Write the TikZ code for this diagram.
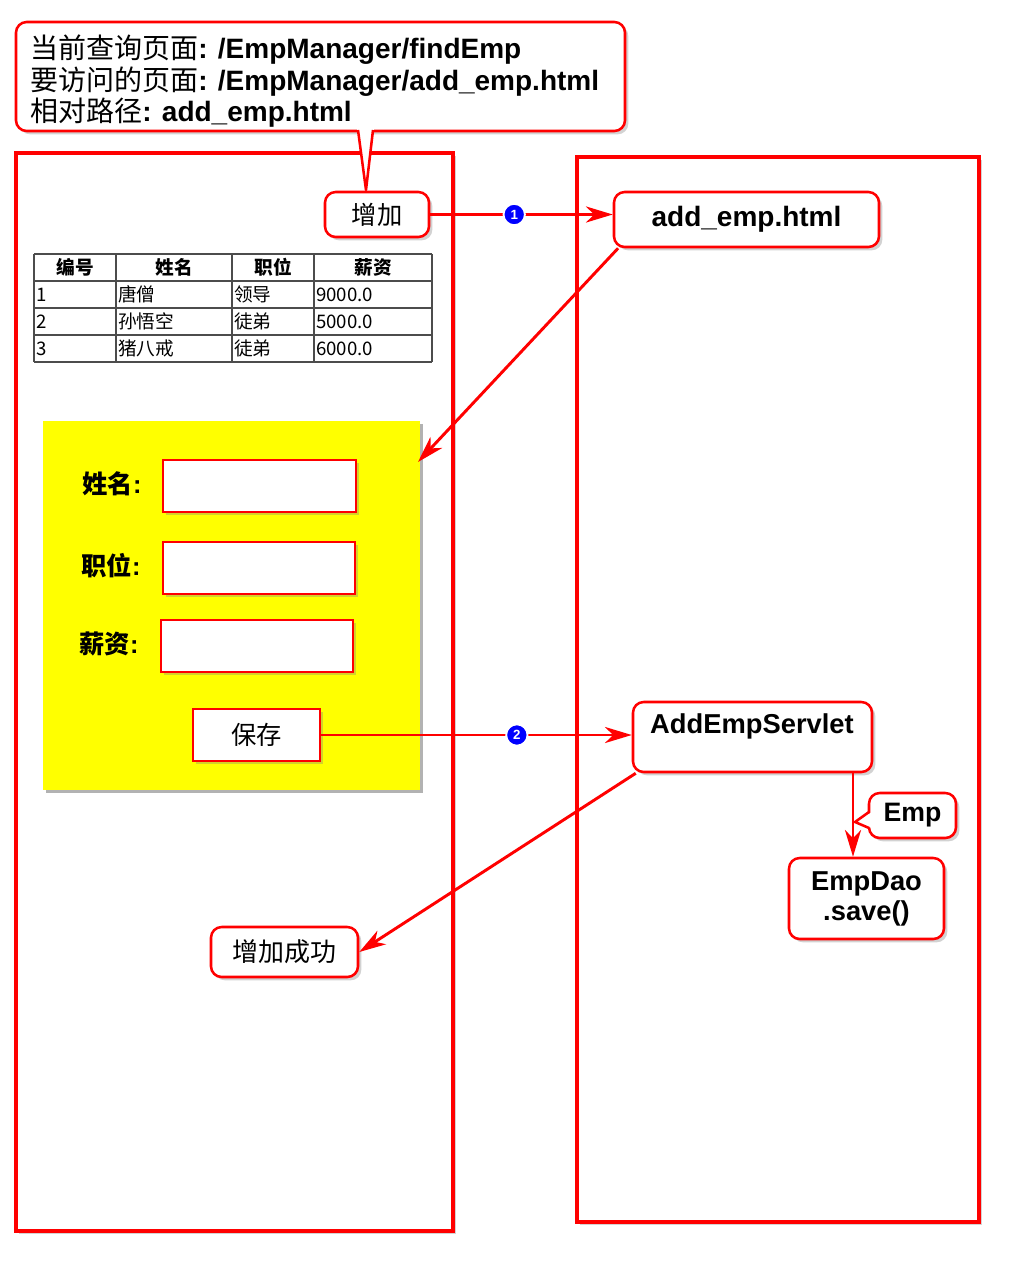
\documentclass[tikz,border=0pt]{standalone}
\usepackage{fontspec}
\setmainfont{Liberation Sans}
\newfontfamily\cjk{Noto Sans CJK SC}
\usetikzlibrary{arrows.meta,positioning,fit,shadows}

\newcommand{\fsz}[1]{\fontsize{#1}{#1}\selectfont}
\definecolor{formyellow}{RGB}{255,255,0}
\definecolor{markblue}{RGB}{0,0,255}

\tikzset{
  redline/.style={draw=red,line width=1.9pt},
  softshadow/.style={drop shadow={shadow xshift=2.5pt,shadow yshift=-2.5pt,opacity=0.35}},
  pxsize/.style 2 args={minimum width=#1*0.75pt,minimum height=#2*0.75pt},
  bigbox/.style={draw=red,line width=2.4pt,fill=white,softshadow},
  rbox/.style={redline,fill=white,rounded corners=8pt,inner sep=0pt,softshadow},
  sbox/.style={redline,fill=white,inner sep=0pt,softshadow},
  arr/.style={red,line width=2.2pt,-{Stealth[length=20pt,width=12pt,inset=6pt]}},
  num/.style={circle,fill=markblue,draw=white,line width=1.4pt,text=white,
    font=\bfseries\fsz{10},inner sep=0pt,minimum size=16pt},
  tabline/.style={draw=black!70,line width=1.4pt},
  cell/.style={font=\cjk\fsz{14},inner sep=0pt},
  flabel/.style={font=\bfseries\fsz{19},inner sep=0pt}
}

\begin{document}
\begin{tikzpicture}[x=0.75pt,y=-0.75pt]
  \useasboundingbox (0,0) rectangle (1024,1275);

  % two pages
  \node[bigbox,inner sep=0pt,fit={(16,153) (453,1231)}] (page1) {};
  \node[bigbox,inner sep=0pt,fit={(577,157) (979,1222)}] (page2) {};

  % note on top
  \node[rbox,fit={(16,22) (625,131)}] (note) {};
  \fill[white] (357,128) -- (366,190) -- (374,128) -- cycle;
  \draw[red,line width=1.9pt,line join=round] (358,130) -- (366,190) -- (373,130);
  \node[anchor=base west,inner sep=0pt,font=\fsz{21}] (t1) at (30,58)
    {{\cjk 当前查询页面}\textbf{: /EmpManager/findEmp}};
  \node[anchor=base west,inner sep=0pt,font=\fsz{21}] (t2) at (30,90)
    {{\cjk 要访问的页面}\textbf{: /EmpManager/add\_emp.html}};
  \node[anchor=base west,inner sep=0pt,font=\fsz{21}] (t3) at (30,121)
    {{\cjk 相对路径}\textbf{: add\_emp.html}};

  \node[rbox,pxsize={104}{45},font=\cjk\fsz{19}] (addbtn) at (377,214.5) {增加};

  % table
  \foreach \x in {34,116,232,314,432}
    \draw[tabline] (\x,254) -- (\x,362);
  \foreach \y in {254,281,308,335,362}
    \draw[tabline] (34,\y) -- (432,\y);
  \foreach \x/\t [count=\i] in {75/编号,174/姓名,273/职位,373/薪资}
    \node[cell,font=\cjk\bfseries\fsz{14}] (h\i) at (\x,267.5) {\t};
  \foreach \y/\a/\b/\c/\d [count=\r] in {294.5/1/唐僧/领导/9000.0,
      321.5/2/孙悟空/徒弟/5000.0,348.5/3/猪八戒/徒弟/6000.0} {
    \node[cell,anchor=west] (r\r a) at (36,\y) {\a};
    \node[cell,anchor=west] (r\r b) at (118,\y) {\b};
    \node[cell,anchor=west] (r\r c) at (234,\y) {\c};
    \node[cell,anchor=west] (r\r d) at (316,\y) {\d};
  }

  % form
  \node[fill=formyellow,inner sep=0pt,fit={(43,421) (420,790)},
    drop shadow={shadow xshift=2pt,shadow yshift=-2pt,fill=gray,opacity=0.6}] (form) {};
  \node[flabel] (lname) at (112,484) {{\cjk 姓名}:};
  \node[flabel] (ljob) at (111,566) {{\cjk 职位}:};
  \node[flabel] (lpay) at (109,644) {{\cjk 薪资}:};
  \node[sbox,pxsize={193}{52}] (in1) at (259.5,486) {};
  \node[sbox,pxsize={192}{52}] (in2) at (259,568) {};
  \node[sbox,pxsize={192}{52}] (in3) at (257,646) {};
  \node[sbox,pxsize={127}{52},font=\cjk\fsz{19}] (save) at (256.5,735) {保存};
  \coordinate (formin) at (418,462);

  \node[rbox,pxsize={147}{50},font=\cjk\fsz{19.5}] (ok) at (284.5,952) {增加成功};

  % server side
  \node[rbox,pxsize={265}{55},font=\bfseries\fsz{21}] (addhtml) at (746.5,219.5) {add\_emp.html};
  \node[rbox,pxsize={239}{70}] (servlet) at (752.5,737) {};
  \node[font=\bfseries\fsz{20.5},inner sep=0pt] (servletlbl) at (752,726) {AddEmpServlet};
  \node[rbox,pxsize={155}{81},align=center,font=\bfseries\fsz{20.5}]
    (dao) at (866.5,898.5) {EmpDao\\[2pt].save()};
  \coordinate (down) at (853,800);

  % arrows
  \draw[arr] (addbtn.east) -- node[num,pos=0.46] (n1) {1} (addbtn.east -| addhtml.west);
  \draw[arr] ([xshift=4pt]addhtml.south west) -- (formin);
  \draw[arr] (save.east) -- node[num,pos=0.63] (n2) {2} (save.east -| servlet.west);
  \draw[arr] ([xshift=3pt]servlet.south west) -- (ok.east);
  \draw[arr] (servlet.south -| down) -- (dao.north -| down);

  % Emp note
  \node[rbox,pxsize={87}{45},font=\bfseries\fsz{20}] (emp) at (912.5,815.5) {Emp};
  \fill[white] (872,812) -- (855,822) -- (872,828) -- cycle;
  \draw[red,line width=1.9pt,line join=round] (869,812) -- (855,822) -- (869,828);
\end{tikzpicture}
\end{document}
